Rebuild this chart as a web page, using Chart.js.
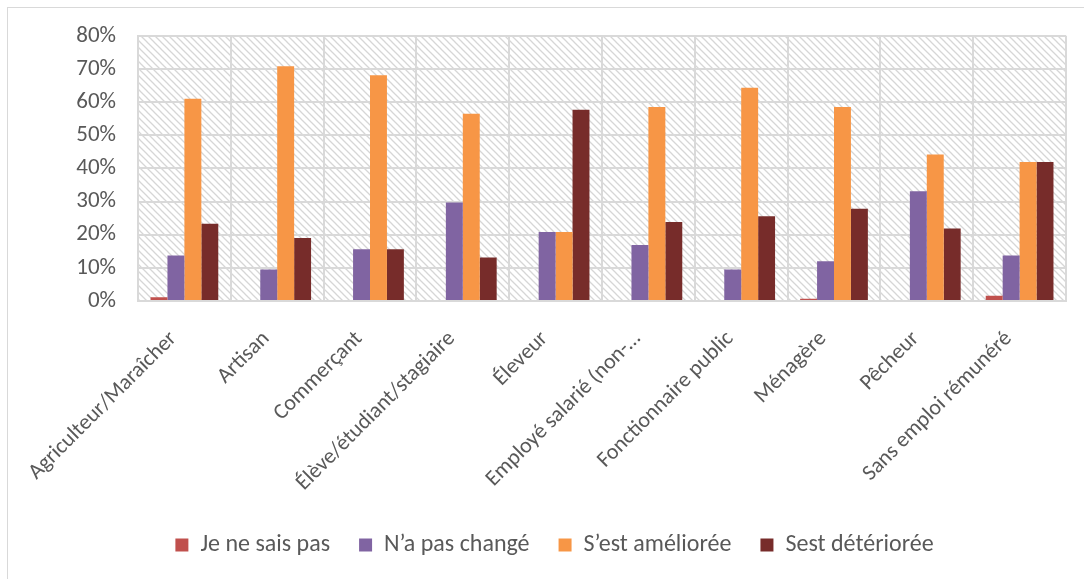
<!DOCTYPE html>
<html>
<head>
<meta charset="utf-8">
<script src="https://cdn.jsdelivr.net/npm/chart.js@4.4.1/dist/chart.umd.min.js"></script>
<style>
  html, body { margin: 0; padding: 0; background: #fff; }
  #wrap { width: 1084px; height: 579px; position: relative; }
</style>
</head>
<body>
<div id="wrap"><canvas id="chart" width="1084" height="579"></canvas></div>
<script>
// categories (occupation) and the four answers, values in %
const categories = [
    'Agriculteur/Maraîcher', 'Artisan', 'Commerçant', 'Élève/étudiant/stagiaire', 'Éleveur',
    'Employé salarié (non-…', 'Fonctionnaire public', 'Ménagère', 'Pêcheur', 'Sans emploi rémunéré'
];
const jeNeSaisPas   = [1.1, 0, 0, 0, 0, 0, 0, 0.7, 0, 1.6];
const naPasChange   = [13.7, 9.5, 15.6, 29.7, 20.8, 16.9, 9.5, 12.0, 33.1, 13.7];
const sestAmelioree = [61.0, 70.8, 68.1, 56.5, 20.8, 58.5, 64.3, 58.5, 44.2, 41.9];
const sestDeterior  = [23.3, 19.0, 15.6, 13.1, 57.7, 23.8, 25.6, 27.8, 21.9, 41.9];
const yTicksMax = 80;

const FONT = "Carlito, 'Open Sans', sans-serif";
const TEXT = '#595959';
const GRID = '#d9d9d9';

// hatched background of the plot area + outer frame
const hatchPlugin = {
    id: 'hatch',
    beforeDraw(chart) {
        const {ctx, chartArea: a} = chart;
        const tile = document.createElement('canvas');
        tile.width = 7; tile.height = 7;
        const t = tile.getContext('2d');
        t.strokeStyle = '#d6d6d6';
        t.lineWidth = 1.3;
        t.beginPath();
        t.moveTo(-1, -1); t.lineTo(8, 8);
        t.moveTo(-1, 6); t.lineTo(1, 8);
        t.moveTo(6, -1); t.lineTo(8, 1);
        t.stroke();
        ctx.save();
        ctx.fillStyle = ctx.createPattern(tile, 'repeat');
        ctx.fillRect(a.left, a.top, a.right - a.left, a.bottom - a.top);
        ctx.restore();
    },
    afterDraw(chart) {
        const ctx = chart.ctx;
        ctx.save();
        ctx.strokeStyle = GRID;
        ctx.lineWidth = 1;
        ctx.strokeRect(7.5, 7.5, 1100, 600);
        ctx.restore();
    }
};

const ctx = document.getElementById('chart').getContext('2d');
window.myChart = new Chart(ctx, {
    type: 'bar',
    data: {
        labels: categories,
        datasets: [
            { label: 'Je ne sais pas', data: jeNeSaisPas, backgroundColor: '#C0504D' },
            { label: 'N\u2019a pas changé', data: naPasChange, backgroundColor: '#8064A2' },
            { label: 'S\u2019est améliorée', data: sestAmelioree, backgroundColor: '#F79646' },
            { label: 'Sest détériorée', data: sestDeterior, backgroundColor: '#772C2A' }
        ]
    },
    options: {
        responsive: false,
        animation: false,
        layout: { padding: { top: 31, right: 18, bottom: 12, left: 43 } },
        datasets: { bar: { categoryPercentage: 0.73, barPercentage: 1 } },
        scales: {
            x: {
                grid: { color: GRID, lineWidth: 2, drawTicks: false, offset: true },
                border: { color: GRID, width: 2 },
                ticks: {
                    color: TEXT, font: { family: FONT, size: 22 },
                    minRotation: 45, maxRotation: 45, autoSkip: false,
                    padding: 25, labelOffset: -11
                },
                afterFit(scale) { scale.height = 203; }
            },
            y: {
                min: 0, max: yTicksMax,
                grid: { color: GRID, lineWidth: 2, drawTicks: false },
                border: { color: GRID, width: 2 },
                ticks: {
                    stepSize: 10, color: TEXT, font: { family: FONT, size: 23 }, padding: 22,
                    callback: v => v + '%'
                },
                afterFit(scale) { scale.width = 95; }
            }
        },
        plugins: {
            legend: {
                position: 'bottom',
                labels: {
                    color: TEXT, font: { family: FONT, size: 24 },
                    boxWidth: 13, boxHeight: 13, padding: 29
                }
            },
            tooltip: { enabled: false }
        }
    },
    plugins: [hatchPlugin]
});
</script>
</body>
</html>
